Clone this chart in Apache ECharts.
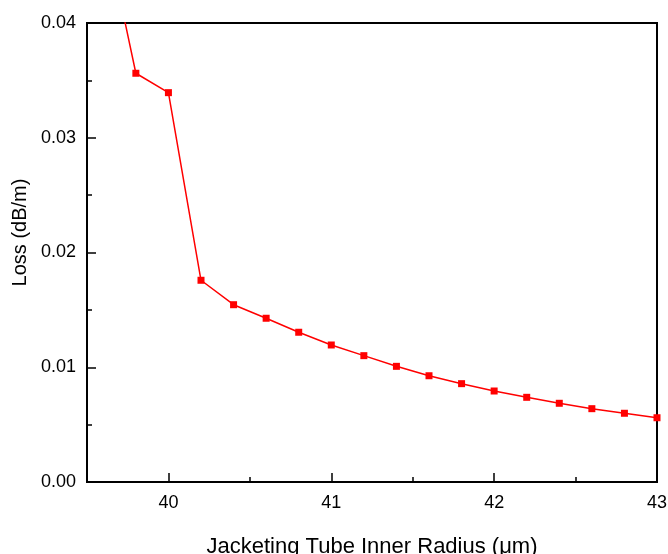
<!DOCTYPE html>
<html>
<head>
<meta charset="utf-8">
<script src="https://cdn.jsdelivr.net/npm/echarts@6/dist/echarts.min.js"></script>
<style>
  html, body { margin: 0; padding: 0; background: #fff; }
  #chart { width: 668px; height: 554px; }
</style>
</head>
<body>
<div id="chart"></div>
<script>
// Jacketing tube inner radius (µm) and the corresponding loss (dB/m)
const radius = [39.6, 39.8, 40.0, 40.2, 40.4, 40.6, 40.8, 41.0, 41.2, 41.4,
                41.6, 41.8, 42.0, 42.2, 42.4, 42.6, 42.8, 43.0];
const loss = [0.0490, 0.03562, 0.03393, 0.01758, 0.01545, 0.01427, 0.01305, 0.01194,
              0.01101, 0.01008, 0.00926, 0.00857, 0.00793, 0.00738, 0.00686,
              0.00639, 0.00599, 0.00560];

// Labelled (major) and half-step (minor) positions on the radius axis
const xMajorTicks = [40, 41, 42, 43];
const xMinorTicks = [39.5, 40.5, 41.5, 42.5];

const xTitle = 'Jacketing Tube Inner Radius (\u03BCm)';
const yTitle = 'Loss (dB/m)';

const FONT = "'Liberation Sans', Arial, sans-serif";

const chart = echarts.init(document.getElementById('chart'), null, { renderer: 'canvas' });

const axisLine = { show: true, lineStyle: { color: '#000', width: 2 } };
const majorTick = { show: true, inside: true, length: 9, lineStyle: { color: '#000', width: 1.5 } };

chart.setOption({
  animation: false,
  backgroundColor: '#fff',
  grid: {
    left: 87, right: 11, top: 23, bottom: 72,
    outerBoundsMode: 'none',
    containLabel: false,
    show: true, borderColor: '#000', borderWidth: 2, backgroundColor: 'transparent'
  },
  xAxis: [{
    type: 'value',
    position: 'bottom',
    min: 39.5, max: 43, interval: 0.5,
    axisLine: axisLine,
    axisTick: Object.assign({ customValues: xMajorTicks }, majorTick),
    splitLine: { show: false },
    axisLabel: {
      color: '#000', fontFamily: FONT, fontSize: 18, margin: 12,
      customValues: xMajorTicks,
      formatter: v => String(Math.round(v))
    },
    name: xTitle,
    nameLocation: 'middle',
    nameGap: 54,
    nameTextStyle: { color: '#000', fontFamily: FONT, fontSize: 22 }
  }, {
    // carries only the short half-step ticks
    type: 'value',
    position: 'bottom',
    min: 39.5, max: 43, interval: 0.5,
    axisLine: { show: false },
    axisTick: { show: true, inside: true, length: 5, customValues: xMinorTicks,
                lineStyle: { color: '#000', width: 1.5 } },
    axisLabel: { show: false },
    splitLine: { show: false }
  }],
  yAxis: {
    type: 'value',
    min: 0, max: 0.04, interval: 0.01,
    axisLine: axisLine,
    axisTick: majorTick,
    minorTick: { show: true, splitNumber: 2, length: 5, lineStyle: { color: '#000', width: 1.5 } },
    splitLine: { show: false },
    minorSplitLine: { show: false },
    axisLabel: {
      color: '#000', fontFamily: FONT, fontSize: 18, margin: 11,
      formatter: v => v.toFixed(2)
    },
    name: yTitle,
    nameLocation: 'middle',
    nameGap: 56,
    nameRotate: 90,
    nameTextStyle: { color: '#000', fontFamily: FONT, fontSize: 20, padding: [0, 0, 0, 40] }
  },
  series: [{
    type: 'line',
    xAxisIndex: 0,
    data: radius.map((r, i) => [r, loss[i]]),
    clip: true,
    symbol: 'rect',
    symbolSize: 7,
    showAllSymbol: true,
    itemStyle: { color: '#ff0000' },
    lineStyle: { color: '#ff0000', width: 1.5 }
  }]
});
</script>
</body>
</html>
